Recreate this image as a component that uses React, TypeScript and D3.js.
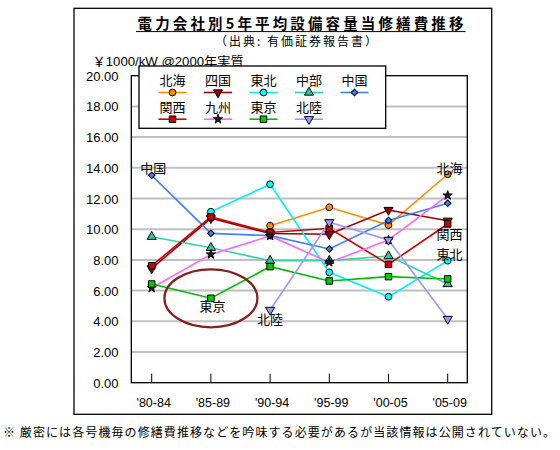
import React from "react";
import * as d3 from "d3";

const periods = ["'80-84", "'85-89", "'90-94", "'95-99", "'00-05", "'05-09"];
const yTicks = [0, 2, 4, 6, 8, 10, 12, 14, 16, 18, 20];

const hokkaido = [null, null, 10.23, 11.43, 10.27, 13.58];
const shikoku = [7.45, 10.71, 9.72, 9.67, 11.25, 10.55];
const tohoku = [null, 11.14, 12.93, 7.19, 5.6, 7.95];
const chubu = [9.51, 8.79, 7.95, 7.95, 8.25, 6.43];
const chugoku = [13.51, 9.73, 9.58, 8.71, 10.57, 11.69];
const kansai = [7.62, 10.8, 9.79, 10.06, 7.71, 10.34];
const kyushu = [6.17, 8.36, 9.56, 7.84, 9.3, 12.2];
const tokyo = [6.43, 5.5, 7.56, 6.63, 6.91, 6.76];
const hokuriku = [null, null, 4.74, 10.45, 9.3, 4.15];

type Series = {
  name: string;
  values: (number | null)[];
  line: string;
  fill: string;
  symbol: string;
};

const series: Series[] = [
  { name: "北海", values: hokkaido, line: "#ff8c00", fill: "#ff8c00", symbol: "circle" },
  { name: "四国", values: shikoku, line: "#990000", fill: "#990000", symbol: "tridown" },
  { name: "東北", values: tohoku, line: "#00f0ff", fill: "#00ffff", symbol: "circle" },
  { name: "中部", values: chubu, line: "#2ed6a6", fill: "#33c4a0", symbol: "triup" },
  { name: "中国", values: chugoku, line: "#4080f8", fill: "#4080f0", symbol: "diamond" },
  { name: "関西", values: kansai, line: "#cc0000", fill: "#cc0000", symbol: "square" },
  { name: "九州", values: kyushu, line: "#ff66ff", fill: "#222222", symbol: "star" },
  { name: "東京", values: tokyo, line: "#00bb00", fill: "#00cc00", symbol: "square" },
  { name: "北陸", values: hokuriku, line: "#9999ff", fill: "#9999ff", symbol: "tridownOpen" },
];

const FONT = "'Liberation Sans', Arial, 'Noto Sans CJK JP', sans-serif";
const JFONT = "'Noto Sans CJK JP', sans-serif";

const plot = { left: 131.3, right: 467.3, top: 75.7, bottom: 382.7 };

const x = d3.scalePoint<string>().domain(periods).range([151.7, 447.7]);
const y = d3.scaleLinear().domain([0, 20]).range([plot.bottom, plot.top]);

function symbolPath(kind: string): { d: string; rotate: number } {
  switch (kind) {
    case "circle":
      return { d: d3.symbol().type(d3.symbolCircle).size(36)()!, rotate: 0 };
    case "tridown":
    case "tridownOpen":
      return { d: d3.symbol().type(d3.symbolTriangle).size(36)()!, rotate: 180 };
    case "triup":
      return { d: d3.symbol().type(d3.symbolTriangle).size(36)()!, rotate: 0 };
    case "diamond":
      return { d: d3.symbol().type(d3.symbolSquare).size(22)()!, rotate: 45 };
    case "square":
      return { d: d3.symbol().type(d3.symbolSquare).size(42)()!, rotate: 0 };
    case "star":
      return { d: d3.symbol().type(d3.symbolStar).size(26)()!, rotate: 0 };
    default:
      return { d: d3.symbol().size(36)()!, rotate: 0 };
  }
}

function Marker({ s, cx, cy }: { s: Series; cx: number; cy: number }) {
  const p = symbolPath(s.symbol);
  return (
    <path
      d={p.d}
      transform={`translate(${cx},${cy}) rotate(${p.rotate})`}
      fill={s.fill}
      stroke="#000"
      strokeWidth={1}
    />
  );
}

const lineGen = d3
  .line<{ p: string; v: number | null }>()
  .defined((d) => d.v != null)
  .x((d) => x(d.p)!)
  .y((d) => y(d.v as number));

export default function App() {
  const legendX0 = 172.5;
  const legendDX = 45.5;
  const legendRows = [85, 111.7];

  return (
    <svg
      width={560}
      height={450}
      style={{ position: "absolute", left: 0, top: 0, background: "#fff" }}
    >
      <rect x={0} y={0} width={560} height={450} fill="#fff" />
      {/* outer frame */}
      <rect x={74} y={8.3} width={417.7} height={406} fill="none" stroke="#000" strokeWidth={1.3} />

      {/* title */}
      <text
        x={300.5}
        y={28.6}
        textAnchor="middle"
        fontFamily={JFONT}
        fontWeight="bold"
        fontSize={14.5}
        textLength={326}
        lengthAdjust="spacing"
        fill="#000"
      >
        電力会社別5年平均設備容量当修繕費推移
      </text>
      <line x1={136} x2={465.5} y1={31.6} y2={31.6} stroke="#000" strokeWidth={1} />
      <text
        x={296}
        y={46.3}
        textAnchor="middle"
        fontFamily={JFONT}
        fontSize={12}
        textLength={162}
        lengthAdjust="spacing"
        fill="#000"
      >
        （出典: 有価証券報告書）
      </text>
      <text x={92.6} y={66.4} fontFamily={FONT} fontSize={13} fill="#000" textLength={151} lengthAdjust="spacingAndGlyphs">
        ￥1000/kW @2000年実質
      </text>

      {/* gridlines */}
      {yTicks
        .filter((t) => t > 0 && t < 20)
        .map((t) => (
          <line key={t} x1={plot.left} x2={plot.right} y1={y(t)} y2={y(t)} stroke="#c0c0c0" strokeWidth={2} />
        ))}

      {/* plot border */}
      <rect
        x={plot.left}
        y={plot.top}
        width={plot.right - plot.left}
        height={plot.bottom - plot.top}
        fill="none"
        stroke="#000"
        strokeWidth={1.3}
      />

      {/* x ticks */}
      {periods.map((p) => (
        <line key={p} x1={x(p)} x2={x(p)} y1={plot.bottom} y2={plot.bottom - 9} stroke="#000" strokeWidth={1} />
      ))}
      {periods.map((p) => (
        <text key={p} x={x(p)! + 2} y={406.7} textAnchor="middle" fontFamily={FONT} fontSize={12.5} fill="#000">
          {p}
        </text>
      ))}

      {/* y labels */}
      {yTicks.map((t) => (
        <text key={t} x={118.5} y={y(t) + 5} textAnchor="end" fontFamily={FONT} fontSize={13} fill="#000">
          {d3.format(".2f")(t)}
        </text>
      ))}

      {/* lines */}
      {series.map((s) => (
        <path
          key={s.name}
          d={lineGen(periods.map((p, i) => ({ p, v: s.values[i] })))!}
          fill="none"
          stroke={s.line}
          strokeWidth={1.6}
        />
      ))}
      {/* markers */}
      {series.map((s) =>
        periods.map((p, i) =>
          s.values[i] == null ? null : (
            <Marker key={s.name + p} s={s} cx={x(p)!} cy={y(s.values[i] as number)} />
          )
        )
      )}

      {/* ellipse */}
      <ellipse cx={x(periods[1])} cy={y(tokyo[1]!)} rx={46.5} ry={29} fill="none" stroke="#8b1c1c" strokeWidth={2.2} />

      {/* annotations */}
      <text x={x(periods[0])! + 1.5} y={y(chugoku[0]!) - 2.3} textAnchor="middle" fontFamily={JFONT} fontSize={13} fill="#000">中国</text>
      <text x={x(periods[1])! + 1.7} y={y(tokyo[1]!) + 12.7} textAnchor="middle" fontFamily={JFONT} fontSize={13} fill="#000">東京</text>
      <text x={x(periods[2])!} y={y(hokuriku[2]!) + 14} textAnchor="middle" fontFamily={JFONT} fontSize={13} fill="#000">北陸</text>
      <text x={x(periods[5])! + 1.7} y={y(hokkaido[5]!) - 1.6} textAnchor="middle" fontFamily={JFONT} fontSize={13} fill="#000">北海</text>
      <text x={x(periods[5])! + 1.7} y={y(kansai[5]!) + 15.3} textAnchor="middle" fontFamily={JFONT} fontSize={13} fill="#000">関西</text>
      <text x={x(periods[5])! + 1.7} y={y(tohoku[5]!) - 1.4} textAnchor="middle" fontFamily={JFONT} fontSize={13} fill="#000">東北</text>

      {/* legend */}
      <rect x={139} y={66} width={246.7} height={62.3} fill="#fff" stroke="#000" strokeWidth={1.3} />
      {series.map((s, i) => {
        const col = i % 5;
        const row = Math.floor(i / 5);
        const cx = legendX0 + col * legendDX;
        const by = legendRows[row];
        const ly = by + 7.5;
        return (
          <g key={s.name}>
            <text x={cx} y={by} textAnchor="middle" fontFamily={JFONT} fontSize={13} fill="#000">
              {s.name}
            </text>
            <line x1={cx - 14} x2={cx + 14} y1={ly} y2={ly} stroke={s.line} strokeWidth={1.6} />
            <Marker s={s} cx={cx} cy={ly} />
          </g>
        );
      })}

      {/* footnote */}
      <text x={3} y={436.7} fontFamily={JFONT} fontSize={12} fill="#000" textLength={552} lengthAdjust="spacing">
        ※ 厳密には各号機毎の修繕費推移などを吟味する必要があるが当該情報は公開されていない。
      </text>
    </svg>
  );
}
